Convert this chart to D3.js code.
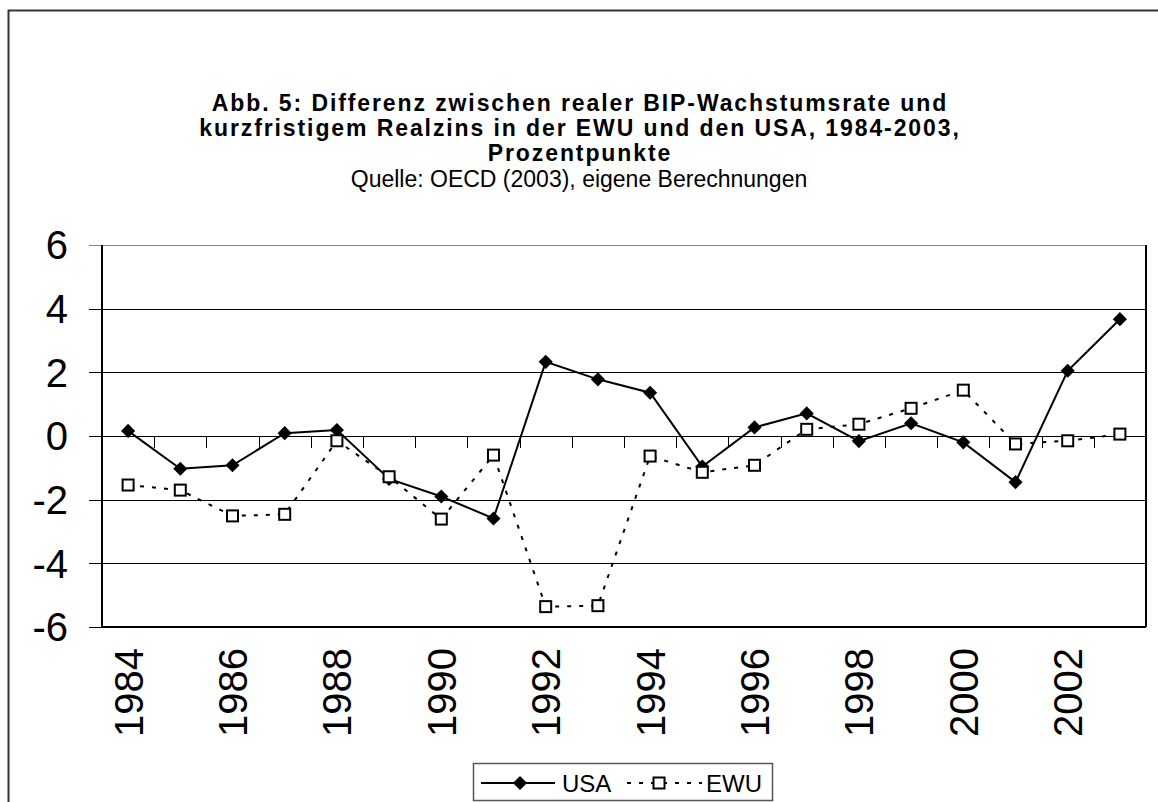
<!DOCTYPE html>
<html>
<head>
<meta charset="utf-8">
<script src="https://cdn.jsdelivr.net/npm/d3@7"></script>
<style>
  body { margin: 0; background: #fff; }
  svg { display: block; font-family: "Liberation Sans", Arial, sans-serif; }
</style>
</head>
<body>
<div id="chart"></div>
<script>
var years = d3.range(1984, 2004);
var usa = [0.16, -1.03, -0.92, 0.09, 0.19, -1.35, -1.9, -2.59, 2.33, 1.78,
           1.36, -0.96, 0.27, 0.71, -0.16, 0.4, -0.2, -1.45, 2.05, 3.67];
var ewu = [-1.54, -1.7, -2.51, -2.46, -0.15, -1.28, -2.61, -0.6, -5.36, -5.33,
           -0.63, -1.14, -0.92, 0.21, 0.37, 0.87, 1.44, -0.25, -0.15, 0.06];
var yTicks = [-6, -4, -2, 0, 2, 4, 6];
var titleLines = [
  'Abb. 5: Differenz zwischen realer BIP-Wachstumsrate und',
  'kurzfristigem Realzins in der EWU und den USA, 1984-2003,',
  'Prozentpunkte'
];
var subtitle = 'Quelle: OECD (2003), eigene Berechnungen';

var width = 1158, height = 802,
  margin = { top: 245, right: 12, bottom: 175, left: 102 },
  plotW = width - margin.left - margin.right,
  plotH = height - margin.top - margin.bottom;

var svg = d3.select('#chart').append('svg')
  .attr('width', width)
  .attr('height', height);

// outer chart border
svg.append('rect')
  .attr('x', 8.5).attr('y', 10.5)
  .attr('width', 1160).attr('height', 820)
  .attr('fill', 'none')
  .attr('stroke', '#333')
  .attr('stroke-width', 2);

var title = svg.append('g').attr('text-anchor', 'middle');
titleLines.forEach(function (t, i) {
  title.append('text')
    .attr('x', 580).attr('y', 111 + i * 25)
    .attr('font-size', 23).attr('font-weight', 'bold')
    .attr('letter-spacing', 1.9)
    .text(t);
});
title.append('text')
  .attr('x', 579).attr('y', 187)
  .attr('font-size', 23)
  .text(subtitle);

var x = d3.scaleBand().domain(years).range([0, plotW]);
var y = d3.scaleLinear().domain([-6, 6]).range([plotH, 0]);

var g = svg.append('g')
  .attr('transform', 'translate(' + margin.left + ',' + margin.top + ')');

// gridlines
g.selectAll('.grid')
  .data(yTicks)
  .enter().append('line')
  .attr('x1', -13).attr('x2', plotW)
  .attr('y1', function (d) { return Math.round(y(d)) + 0.5; })
  .attr('y2', function (d) { return Math.round(y(d)) + 0.5; })
  .attr('stroke', function (d) { return d === 6 ? '#888' : '#000'; })
  .attr('stroke-width', 1);

// y labels
g.selectAll('.ylab')
  .data(yTicks)
  .enter().append('text')
  .attr('x', -34).attr('y', function (d) { return y(d); })
  .attr('dy', '0.36em')
  .attr('text-anchor', 'end')
  .attr('font-size', 40)
  .text(function (d) { return d; });

// plot frame: left + right + bottom
g.append('line').attr('x1', 0).attr('x2', 0).attr('y1', 0).attr('y2', plotH)
  .attr('stroke', '#000').attr('stroke-width', 2);
g.append('line').attr('x1', plotW).attr('x2', plotW).attr('y1', 0).attr('y2', plotH)
  .attr('stroke', '#000').attr('stroke-width', 2);
g.append('line').attr('x1', 0).attr('x2', plotW).attr('y1', plotH).attr('y2', plotH)
  .attr('stroke', '#000').attr('stroke-width', 2);

// category axis sits at zero, ticks between categories
var zeroY = Math.round(y(0));
g.selectAll('.xtick')
  .data(years.slice(1))
  .enter().append('line')
  .attr('x1', function (d) { return Math.round(x(d)) + 0.5; })
  .attr('x2', function (d) { return Math.round(x(d)) + 0.5; })
  .attr('y1', zeroY).attr('y2', zeroY + 12)
  .attr('stroke', '#000');

// rotated year labels below plot
g.selectAll('.xlab')
  .data(years.filter(function (d) { return d % 2 === 0; }))
  .enter().append('text')
  .attr('transform', function (d) {
    return 'translate(' + (x(d) + x.bandwidth() / 2) + ',' + (plotH + 21) + ') rotate(-90)';
  })
  .attr('dy', '0.36em')
  .attr('text-anchor', 'end')
  .attr('font-size', 40)
  .text(function (d) { return d; });

var line = d3.line()
  .x(function (d, i) { return x(years[i]) + x.bandwidth() / 2; })
  .y(function (d) { return y(d); });

g.append('path')
  .attr('d', line(ewu))
  .attr('fill', 'none')
  .attr('stroke', '#000')
  .attr('stroke-width', 2)
  .attr('stroke-dasharray', '4,8');

g.append('path')
  .attr('d', line(usa))
  .attr('fill', 'none')
  .attr('stroke', '#000')
  .attr('stroke-width', 2);

var diamond = d3.symbol().type(d3.symbolSquare).size(100);

g.selectAll('.usa')
  .data(usa)
  .enter().append('path')
  .attr('d', diamond)
  .attr('transform', function (d, i) {
    return 'translate(' + (x(years[i]) + x.bandwidth() / 2) + ',' + y(d) + ') rotate(45)';
  })
  .attr('fill', '#000');

g.selectAll('.ewu')
  .data(ewu)
  .enter().append('rect')
  .attr('x', function (d, i) { return x(years[i]) + x.bandwidth() / 2 - 5.5; })
  .attr('y', function (d) { return y(d) - 5.5; })
  .attr('width', 11).attr('height', 11)
  .attr('fill', '#fff')
  .attr('stroke', '#000')
  .attr('stroke-width', 2);

// legend
var lg = svg.append('g');
lg.append('rect')
  .attr('x', 473.5).attr('y', 763.5)
  .attr('width', 299).attr('height', 37)
  .attr('fill', '#fff').attr('stroke', '#555').attr('stroke-width', 1.5);
lg.append('line').attr('x1', 481).attr('x2', 555).attr('y1', 783).attr('y2', 783)
  .attr('stroke', '#000').attr('stroke-width', 2);
lg.append('path').attr('d', diamond)
  .attr('transform', 'translate(520,783) rotate(45)').attr('fill', '#000');
lg.append('text').attr('x', 562).attr('y', 792).attr('font-size', 24).text('USA');
lg.append('line').attr('x1', 627).attr('x2', 702).attr('y1', 783).attr('y2', 783)
  .attr('stroke', '#000').attr('stroke-width', 2).attr('stroke-dasharray', '4,8');
lg.append('rect').attr('x', 653.5).attr('y', 777.5).attr('width', 11).attr('height', 11)
  .attr('fill', '#fff').attr('stroke', '#000').attr('stroke-width', 2);
lg.append('text').attr('x', 706).attr('y', 792).attr('font-size', 24).text('EWU');
</script>
</body>
</html>
